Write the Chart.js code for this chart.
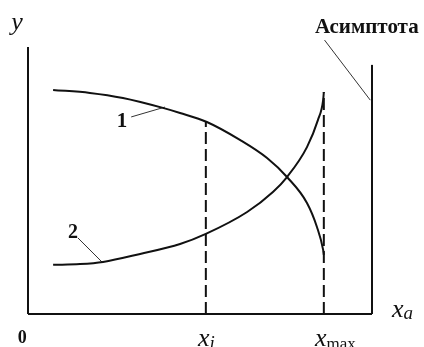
<!DOCTYPE html>
<html>
<head>
<meta charset="utf-8">
<script src="https://cdn.jsdelivr.net/npm/chart.js@4"></script>
<style>
  html, body { margin: 0; padding: 0; background: #fff; }
  canvas { display: block; }
</style>
</head>
<body>
<canvas id="chart" width="424" height="347"></canvas>
<script>
// Curve 1 (falling) and curve 2 (rising), in axis units: 0..100 from origin to asymptote
const curve1X = [7.3, 18.0, 27.6, 39.2, 44.2, 52.0, 61.6, 69.5, 75.3, 81.1, 84.0, 85.8, 86.0];
const curve1Y = [83.9, 82.8, 80.9, 77.2, 75.3, 71.9, 65.2, 58.4, 51.3, 41.6, 32.6, 24.0, 22.1];
const curve2X = [7.3, 15.1, 21.8, 32.6, 44.2, 51.7, 63.7, 71.2, 75.3, 81.1, 84.3, 85.8, 86.0];
const curve2Y = [18.4, 18.7, 19.5, 22.5, 26.2, 30.0, 38.2, 45.7, 51.3, 62.5, 72.7, 80.1, 83.1];

// Marked abscissas and the vertical asymptote
const xI = 51.7;
const xMax = 86.0;
const xAsymptote = 100;
const yAxisTop = 100;
const asymptoteTop = 93.3;

// Leader lines from the labels to the curves
const leader1X = [30.0, 39.8];
const leader1Y = [73.8, 77.5];
const leader2X = [14.5, 21.8];
const leader2Y = [28.5, 19.1];
const leaderAsymX = [86.2, 99.5];
const leaderAsymY = [102.6, 80.1];

const INK = "#111";

function toPoints(xs, ys) {
  return xs.map((x, i) => ({ x, y: ys[i] }));
}

function lineSet(xs, ys, extra = {}) {
  return {
    data: toPoints(xs, ys),
    showLine: true,
    borderColor: INK,
    borderWidth: 2,
    pointRadius: 0,
    fill: false,
    clip: false,
    ...extra
  };
}

// Text labels placed in axis units
const labels = [
  { text: "y", x: -3.2, y: 106.4, font: "italic 26px 'Liberation Serif'", align: "center" },
  { text: "Асимптота", x: 83.4, y: 105.2, font: "bold 21px 'Liberation Serif'", align: "left" },
  { text: "1", x: 27.3, y: 70.0, font: "bold 21px 'Liberation Serif'", align: "center" },
  { text: "2", x: 13.1, y: 28.5, font: "bold 20px 'Liberation Serif'", align: "center" },
  { text: "0", x: -1.7, y: -10.9, font: "bold 18px 'Liberation Serif'", align: "center" },
  { text: "x", sub: "a", x: 105.8, y: -1.1, font: "italic 26px 'Liberation Serif'", subFont: "italic 19px 'Liberation Serif'", subDrop: 2 },
  { text: "x", sub: "i", x: 49.4, y: -12.0, font: "italic 26px 'Liberation Serif'", subFont: "italic 19px 'Liberation Serif'", subDrop: 3 },
  { text: "x", sub: "max", x: 83.4, y: -12.0, font: "italic 26px 'Liberation Serif'", subFont: "17px 'Liberation Serif'", subDrop: 3 }
];

const textLabels = {
  id: "textLabels",
  afterDatasetsDraw(chart) {
    const { ctx, scales } = chart;
    ctx.save();
    ctx.fillStyle = INK;
    ctx.textBaseline = "alphabetic";
    labels.forEach((l) => {
      const px = scales.x.getPixelForValue(l.x);
      const py = scales.y.getPixelForValue(l.y);
      ctx.font = l.font;
      ctx.textAlign = l.align || "left";
      ctx.fillText(l.text, px, py);
      if (l.sub) {
        const w = ctx.measureText(l.text).width;
        ctx.font = l.subFont;
        ctx.textAlign = "left";
        ctx.fillText(l.sub, px + w, py + l.subDrop);
      }
    });
    ctx.restore();
  }
};

new Chart(document.getElementById("chart"), {
  type: "scatter",
  data: {
    datasets: [
      lineSet([0, 0], [0, yAxisTop]),
      lineSet([0, xAsymptote], [0, 0]),
      lineSet([xAsymptote, xAsymptote], [0, asymptoteTop]),
      lineSet([xI, xI], [0, curve1Y[5]], { borderDash: [12, 5] }),
      lineSet([xMax, xMax], [0, curve2Y[curve2Y.length - 1]], { borderDash: [12, 5] }),
      lineSet(curve1X, curve1Y, { cubicInterpolationMode: "monotone" }),
      lineSet(curve2X, curve2Y, { cubicInterpolationMode: "monotone" }),
      lineSet(leader1X, leader1Y, { borderWidth: 1, borderColor: "#333" }),
      lineSet(leader2X, leader2Y, { borderWidth: 1, borderColor: "#333" }),
      lineSet(leaderAsymX, leaderAsymY, { borderWidth: 1, borderColor: "#333" })
    ]
  },
  options: {
    responsive: false,
    animation: false,
    layout: { padding: 0 },
    scales: {
      x: { type: "linear", min: -8.14, max: 115.12, display: false },
      y: { type: "linear", min: -12.36, max: 117.6, display: false }
    },
    plugins: {
      legend: { display: false },
      tooltip: { enabled: false }
    }
  },
  plugins: [textLabels]
});
</script>
</body>
</html>
